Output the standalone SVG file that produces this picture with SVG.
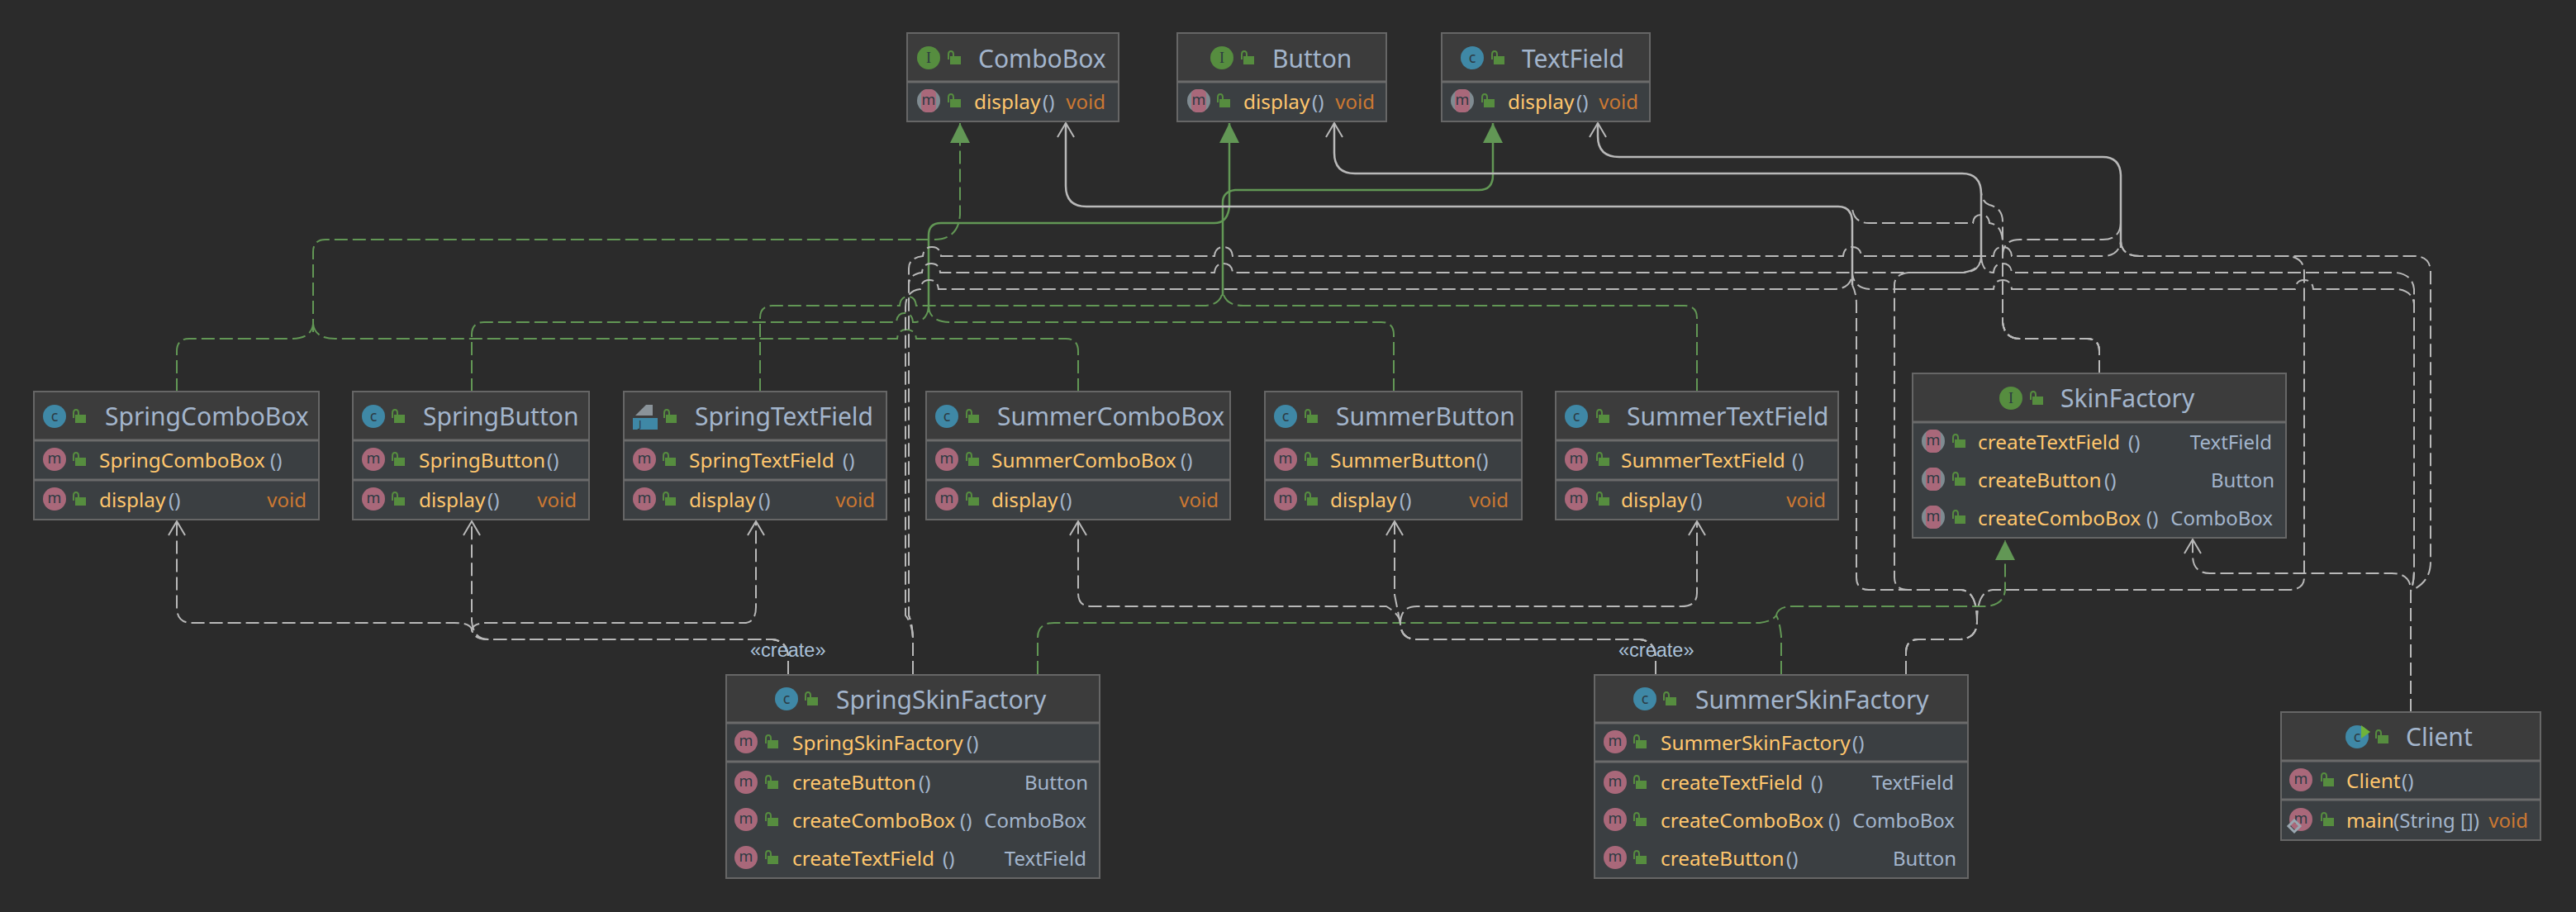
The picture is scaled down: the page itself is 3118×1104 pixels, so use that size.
<svg xmlns="http://www.w3.org/2000/svg" width="3118" height="1104" viewBox="0 0 3118 1104">
<style>
text{font-family:"Noto Sans","Open Sans","DejaVu Sans",sans-serif}
.t{font-size:30px;fill:#a3b5cc}
.n{font-size:24.4px;fill:#ffc66d}
.p{font-size:24px;fill:#a3b5cc}
.v{font-size:24px;fill:#cc7832;text-anchor:end}
.y{font-size:24px;fill:#a3b5cc;text-anchor:end}
.h{fill:#3c3c3c;stroke:#666;stroke-width:2}
.b{fill:#3b3f42;stroke:#666;stroke-width:2}
.s{stroke:#6b6b6b;stroke-width:3}
.l{font-size:23.5px;fill:#a9c0d8;font-family:"Liberation Sans",Arial,sans-serif}
.e{fill:none;stroke-width:2;stroke-dasharray:16 6}
.sol{fill:none;stroke-width:2.5}
.w{stroke:#b9b9b9}
.g{stroke:#629755}
.wa{marker-end:url(#open)}
.ga{marker-end:url(#tri)}
.k{font-size:18px;fill:#2c3a42;text-anchor:middle}
</style>
<defs>
<marker id="open" markerUnits="userSpaceOnUse" markerWidth="24" markerHeight="26" refX="20" refY="13" orient="auto"><path d="M3,3 L20,13 L3,23" fill="none" stroke="#b9b9b9" stroke-width="2"/></marker>
<marker id="tri" markerUnits="userSpaceOnUse" markerWidth="26" markerHeight="28" refX="24" refY="13" orient="auto"><path d="M0,1 L24,13 L0,25 Z" fill="#629755"/></marker>
<g id="lock"><path d="M-7,2 V-4 Q-7,-8 -4,-8 Q-1,-8 -1,-4 V-2" fill="none" stroke="#568d3f" stroke-width="2"/><rect x="-5" y="-2" width="13" height="10" fill="#568d3f"/></g>
<g id="ic"><circle r="14" fill="#3f88a6"/><text class="k" y="6">c</text></g>
<g id="ii"><circle r="14" fill="#568d3f"/><text class="k" y="6" style="font-family:'Liberation Serif',serif">I</text></g>
<g id="im"><circle r="14" fill="#a9687a"/><text class="k" y="5">m</text></g>
<g id="ia"><circle r="14" fill="#7f8b91"/><rect x="-9" y="-14" width="18" height="28" rx="6" fill="#a9687a"/><text class="k" y="5">m</text></g>
</defs>
<rect width="3118" height="1104" fill="#2b2b2b"/>

<g id="connectors">
<!-- realization: ComboBox -->
<path class="e g ga" d="M379,402 V305 Q379,290 394,290 H1130 Q1160,290 1162,260 V149"/>
<path class="e g" d="M214,474 V425 Q214,410 229,410 H352 Q377,410 379,392"/>
<path class="e g" d="M1305,474 V425 Q1305,410 1290,410 H1109 Q1108,399 1097,399 Q1087,399 1086,410 H406 Q381,410 379,392"/>
<!-- realization: Button -->
<path class="sol g ga" d="M1124,378 V285 Q1124,270 1139,270 H1470 Q1486,270 1488,250 V149"/>
<path class="e g" d="M571,474 V405 Q571,390 586,390 H1085 Q1086,379 1095,379 Q1104,379 1105,390 H1108 Q1122,388 1124,372"/>
<path class="e g" d="M1687,474 V405 Q1687,390 1672,390 H1150 Q1126,390 1124,372"/>
<!-- realization: TextField -->
<path class="sol g ga" d="M1480,358 V245 Q1480,232 1495,230 H1790 Q1807,230 1807,212 V149"/>
<path class="e g" d="M920,474 V385 Q920,370 935,370 H1089 Q1090,359 1099,359 Q1108,359 1109,370 H1456 Q1478,370 1480,352"/>
<path class="e g" d="M2054,474 V385 Q2054,370 2039,370 H1505 Q1482,370 1480,352"/>
<!-- realization: SkinFactory -->
<path class="e g ga" d="M2150,745 Q2152,734 2170,734 H2400 Q2427,734 2427,712 V654"/>
<path class="e g" d="M1256,816 V772 Q1256,754 1276,754 H2130 Q2145,752 2150,745"/>
<path class="e g" d="M2156,816 V770 Q2154,752 2150,745"/>
<!-- to ComboBox -->
<path class="sol w wa" d="M2242,345 V268 Q2241,250 2225,250 H1315 Q1290,250 1290,225 V149"/>
<path class="e w" d="M2541,452 V425 Q2541,410 2526,410 H2445 Q2426,410 2424,390 V295 Q2424,272 2408,270 Q2407,260 2398,260 Q2389,260 2388,270 H2262 Q2244,270 2242,252"/>
<path class="e w" d="M1105,816 V772 Q1104,755 1096,745 V372 Q1096,352 1114,350 Q1115,339 1125,339 Q1135,339 1136,350 H2219 Q2240,350 2242,332"/>
<path class="e w" d="M2307,816 V790 Q2307,774 2322,774 H2370 Q2393,774 2393,752 Q2393,716 2374,714 H2262 Q2247,714 2247,699 V368 Q2247,355 2242,345"/>
<path class="e w" d="M2918,862 V715 Q2922,705 2922,690 V368 Q2920,352 2902,350 H2800 Q2799,339 2789,339 Q2779,339 2778,350 H2435 Q2434,339 2424,339 Q2414,339 2413,350 H2265 Q2245,350 2242,332"/>
<!-- to Button -->
<path class="sol w wa" d="M2398,318 V235 Q2398,210 2375,210 H1640 Q1615,210 1615,185 V149"/>
<path class="e w" d="M2541,452 V425 Q2541,410 2526,410 H2445 Q2426,410 2424,390 V268 Q2424,252 2408,248 Q2399,245 2398,232"/>
<path class="e w" d="M1105,816 V772 Q1104,755 1100,745 V345 Q1100,332 1116,330 Q1117,319 1127,319 Q1137,319 1138,330 H1470 Q1471,319 1481,319 Q1491,319 1492,330 H2370 Q2396,330 2398,312"/>
<path class="e w" d="M2307,816 V790 Q2307,774 2322,774 H2370 Q2393,774 2393,752 Q2393,716 2374,714 H2310 Q2293,714 2293,699 V345 Q2293,332 2310,330 H2375 Q2396,330 2398,312"/>
<path class="e w" d="M2918,862 V715 Q2922,705 2922,690 V350 Q2920,332 2900,330 H2435 Q2434,319 2424,319 Q2414,319 2413,330 Q2400,330 2398,312"/>
<!-- to TextField -->
<path class="sol w wa" d="M2567,300 V212 Q2566,190 2545,190 H1960 Q1934,190 1934,165 V149"/>
<path class="e w" d="M2541,452 V425 Q2541,410 2526,410 H2445 Q2426,410 2424,390 V310 Q2424,290 2445,290 H2545 Q2566,290 2567,270"/>
<path class="e w" d="M1105,816 V772 Q1104,755 1100,745 V325 Q1100,312 1117,310 Q1118,299 1128,299 Q1138,299 1139,310 H1470 Q1471,299 1481,299 Q1491,299 1492,310 H2231 Q2232,299 2242,299 Q2252,299 2253,310 H2413 Q2414,299 2424,299 Q2434,299 2435,310 H2545 Q2565,310 2567,292"/>
<path class="e w" d="M2307,816 V790 Q2307,774 2322,774 H2370 Q2393,774 2393,752 Q2393,716 2412,714 H2770 Q2789,714 2789,699 V330 Q2789,312 2770,310 H2590 Q2568,310 2567,292"/>
<path class="e w" d="M2918,862 V715 Q2942,705 2942,680 V330 Q2942,310 2922,310 H2590 Q2568,310 2567,292"/>
<!-- Client to SkinFactory -->
<path class="e w wa" d="M2918,862 V712 Q2916,694 2895,694 H2675 Q2654,694 2654,672 V653"/>
<!-- create -->
<path class="e w wa" d="M954,816 V795 Q953,776 935,774 H592 Q573,774 571,762 Q569,754 550,754 H232 Q214,754 214,735 V631"/>
<path class="e w wa" d="M954,816 V795 Q953,776 935,774 H592 Q573,774 571,752 V631"/>
<path class="e w wa" d="M954,816 V795 Q953,776 935,774 H592 Q573,774 571,762 Q573,754 590,754 H900 Q915,754 915,735 V631"/>
<path class="e w wa" d="M2004,816 V795 Q2003,776 1985,774 H1715 Q1696,774 1695,755 Q1695,744 1678,734 H1320 Q1305,734 1305,718 V631"/>
<path class="e w wa" d="M2004,816 V795 Q2003,776 1985,774 H1715 Q1696,774 1695,755 Q1693,745 1688,720 V631"/>
<path class="e w wa" d="M2004,816 V795 Q2003,776 1985,774 H1715 Q1696,774 1695,755 Q1695,734 1715,734 H2035 Q2054,734 2054,718 V631"/>
</g>
<text class="l" x="908" y="795">«create»</text>
<text class="l" x="1959" y="795">«create»</text>

<g id="ComboBox">
<rect class="h" x="1098" y="40" width="256" height="59"/><rect class="b" x="1098" y="99" width="256" height="48"/><line class="s" x1="1098" x2="1354" y1="99" y2="99"/>
<use href="#ii" x="1124" y="70"/><use href="#lock" x="1155" y="70"/><text class="t" x="1184" y="82">ComboBox</text>
<use href="#ia" x="1124" y="122"/><use href="#lock" x="1155" y="122"/><text class="n" x="1179" y="132">display<tspan class="p" x="1262">()</tspan></text><text class="v" x="1338" y="132">void</text>
</g>
<g id="Button">
<rect class="h" x="1425" y="40" width="253" height="59"/><rect class="b" x="1425" y="99" width="253" height="48"/><line class="s" x1="1425" x2="1678" y1="99" y2="99"/>
<use href="#ii" x="1479" y="70"/><use href="#lock" x="1510" y="70"/><text class="t" x="1540" y="82">Button</text>
<use href="#ia" x="1451" y="122"/><use href="#lock" x="1481" y="122"/><text class="n" x="1505" y="132">display<tspan class="p" x="1588">()</tspan></text><text class="v" x="1664" y="132">void</text>
</g>
<g id="TextField">
<rect class="h" x="1745" y="40" width="252" height="59"/><rect class="b" x="1745" y="99" width="252" height="48"/><line class="s" x1="1745" x2="1997" y1="99" y2="99"/>
<use href="#ic" x="1782" y="70"/><use href="#lock" x="1813" y="70"/><text class="t" x="1842" y="82">TextField</text>
<use href="#ia" x="1770" y="122"/><use href="#lock" x="1801" y="122"/><text class="n" x="1825" y="132">display<tspan class="p" x="1908">()</tspan></text><text class="v" x="1983" y="132">void</text>
</g>

<g id="SpringComboBox">
<rect class="h" x="41" y="474" width="345" height="59"/><rect class="b" x="41" y="533" width="345" height="96"/><line class="s" x1="41" x2="386" y1="533" y2="533"/><line class="s" x1="41" x2="386" y1="581" y2="581"/>
<use href="#ic" x="66" y="504"/><use href="#lock" x="96" y="504"/><text class="t" x="127" y="515">SpringComboBox</text>
<use href="#im" x="66" y="556"/><use href="#lock" x="96" y="556"/><text class="n" x="120" y="566">SpringComboBox<tspan class="p" x="327">()</tspan></text>
<use href="#im" x="66" y="604"/><use href="#lock" x="96" y="604"/><text class="n" x="120" y="614">display<tspan class="p" x="204">()</tspan></text><text class="v" x="371" y="614">void</text>
</g>
<g id="SpringButton">
<rect class="h" x="427" y="474" width="286" height="59"/><rect class="b" x="427" y="533" width="286" height="96"/><line class="s" x1="427" x2="713" y1="533" y2="533"/><line class="s" x1="427" x2="713" y1="581" y2="581"/>
<use href="#ic" x="452" y="504"/><use href="#lock" x="482" y="504"/><text class="t" x="512" y="515">SpringButton</text>
<use href="#im" x="452" y="556"/><use href="#lock" x="482" y="556"/><text class="n" x="507" y="566">SpringButton<tspan class="p" x="662">()</tspan></text>
<use href="#im" x="452" y="604"/><use href="#lock" x="482" y="604"/><text class="n" x="507" y="614">display<tspan class="p" x="590">()</tspan></text><text class="v" x="698" y="614">void</text>
</g>
<g id="SpringTextField">
<rect class="h" x="755" y="474" width="318" height="59"/><rect class="b" x="755" y="533" width="318" height="96"/><line class="s" x1="755" x2="1073" y1="533" y2="533"/><line class="s" x1="755" x2="1073" y1="581" y2="581"/>
<path d="M769,503 L782,490 H790 V503 Z" fill="#8a9399"/><rect x="766" y="506" width="30" height="14" fill="#3f88a6"/><text x="773" y="518" style="font-size:13px;fill:#2c3a42">J</text>
<use href="#lock" x="811" y="504"/><text class="t" x="841" y="515">SpringTextField</text>
<use href="#im" x="780" y="556"/><use href="#lock" x="810" y="556"/><text class="n" x="834" y="566">SpringTextField<tspan class="p" x="1020">()</tspan></text>
<use href="#im" x="780" y="604"/><use href="#lock" x="810" y="604"/><text class="n" x="834" y="614">display<tspan class="p" x="918">()</tspan></text><text class="v" x="1059" y="614">void</text>
</g>
<g id="SummerComboBox">
<rect class="h" x="1121" y="474" width="368" height="59"/><rect class="b" x="1121" y="533" width="368" height="96"/><line class="s" x1="1121" x2="1489" y1="533" y2="533"/><line class="s" x1="1121" x2="1489" y1="581" y2="581"/>
<use href="#ic" x="1146" y="504"/><use href="#lock" x="1177" y="504"/><text class="t" x="1207" y="515">SummerComboBox</text>
<use href="#im" x="1146" y="556"/><use href="#lock" x="1177" y="556"/><text class="n" x="1200" y="566">SummerComboBox<tspan class="p" x="1429">()</tspan></text>
<use href="#im" x="1146" y="604"/><use href="#lock" x="1177" y="604"/><text class="n" x="1200" y="614">display<tspan class="p" x="1283">()</tspan></text><text class="v" x="1475" y="614">void</text>
</g>
<g id="SummerButton">
<rect class="h" x="1531" y="474" width="311" height="59"/><rect class="b" x="1531" y="533" width="311" height="96"/><line class="s" x1="1531" x2="1842" y1="533" y2="533"/><line class="s" x1="1531" x2="1842" y1="581" y2="581"/>
<use href="#ic" x="1556" y="504"/><use href="#lock" x="1587" y="504"/><text class="t" x="1617" y="515">SummerButton</text>
<use href="#im" x="1556" y="556"/><use href="#lock" x="1587" y="556"/><text class="n" x="1610" y="566">SummerButton<tspan class="p" x="1787">()</tspan></text>
<use href="#im" x="1556" y="604"/><use href="#lock" x="1587" y="604"/><text class="n" x="1610" y="614">display<tspan class="p" x="1694">()</tspan></text><text class="v" x="1826" y="614">void</text>
</g>
<g id="SummerTextField">
<rect class="h" x="1883" y="474" width="342" height="59"/><rect class="b" x="1883" y="533" width="342" height="96"/><line class="s" x1="1883" x2="2225" y1="533" y2="533"/><line class="s" x1="1883" x2="2225" y1="581" y2="581"/>
<use href="#ic" x="1908" y="504"/><use href="#lock" x="1940" y="504"/><text class="t" x="1969" y="515">SummerTextField</text>
<use href="#im" x="1908" y="556"/><use href="#lock" x="1940" y="556"/><text class="n" x="1962" y="566">SummerTextField<tspan class="p" x="2169">()</tspan></text>
<use href="#im" x="1908" y="604"/><use href="#lock" x="1940" y="604"/><text class="n" x="1962" y="614">display<tspan class="p" x="2046">()</tspan></text><text class="v" x="2210" y="614">void</text>
</g>

<g id="SkinFactory">
<rect class="h" x="2315" y="452" width="452" height="59"/><rect class="b" x="2315" y="511" width="452" height="140"/><line class="s" x1="2315" x2="2767" y1="511" y2="511"/>
<use href="#ii" x="2434" y="482"/><use href="#lock" x="2465" y="482"/><text class="t" x="2494" y="493">SkinFactory</text>
<use href="#ia" x="2340" y="534"/><use href="#lock" x="2371" y="534"/><text class="n" x="2394" y="544">createTextField<tspan class="p" x="2576">()</tspan></text><text class="y" x="2750" y="544">TextField</text>
<use href="#ia" x="2340" y="580"/><use href="#lock" x="2371" y="580"/><text class="n" x="2394" y="590">createButton<tspan class="p" x="2547">()</tspan></text><text class="y" x="2753" y="590">Button</text>
<use href="#ia" x="2340" y="626"/><use href="#lock" x="2371" y="626"/><text class="n" x="2394" y="636">createComboBox<tspan class="p" x="2598">()</tspan></text><text class="y" x="2751" y="636">ComboBox</text>
</g>

<g id="SpringSkinFactory">
<rect class="h" x="879" y="817" width="452" height="58"/><rect class="b" x="879" y="875" width="452" height="188"/><line class="s" x1="879" x2="1331" y1="875" y2="875"/><line class="s" x1="879" x2="1331" y1="922" y2="922"/>
<use href="#ic" x="952" y="846"/><use href="#lock" x="982" y="846"/><text class="t" x="1012" y="858">SpringSkinFactory</text>
<use href="#im" x="903" y="898"/><use href="#lock" x="934" y="898"/><text class="n" x="959" y="908">SpringSkinFactory<tspan class="p" x="1170">()</tspan></text>
<use href="#im" x="903" y="947"/><use href="#lock" x="934" y="947"/><text class="n" x="959" y="956">createButton<tspan class="p" x="1112">()</tspan></text><text class="y" x="1317" y="956">Button</text>
<use href="#im" x="903" y="992"/><use href="#lock" x="934" y="992"/><text class="n" x="959" y="1002">createComboBox<tspan class="p" x="1162">()</tspan></text><text class="y" x="1315" y="1002">ComboBox</text>
<use href="#im" x="903" y="1038"/><use href="#lock" x="934" y="1038"/><text class="n" x="959" y="1048">createTextField<tspan class="p" x="1141">()</tspan></text><text class="y" x="1315" y="1048">TextField</text>
</g>
<g id="SummerSkinFactory">
<rect class="h" x="1930" y="817" width="452" height="58"/><rect class="b" x="1930" y="875" width="452" height="188"/><line class="s" x1="1930" x2="2382" y1="875" y2="875"/><line class="s" x1="1930" x2="2382" y1="922" y2="922"/>
<use href="#ic" x="1991" y="846"/><use href="#lock" x="2021" y="846"/><text class="t" x="2052" y="858">SummerSkinFactory</text>
<use href="#im" x="1955" y="898"/><use href="#lock" x="1985" y="898"/><text class="n" x="2010" y="908">SummerSkinFactory<tspan class="p" x="2242">()</tspan></text>
<use href="#im" x="1955" y="947"/><use href="#lock" x="1985" y="947"/><text class="n" x="2010" y="956">createTextField<tspan class="p" x="2192">()</tspan></text><text class="y" x="2365" y="956">TextField</text>
<use href="#im" x="1955" y="992"/><use href="#lock" x="1985" y="992"/><text class="n" x="2010" y="1002">createComboBox<tspan class="p" x="2213">()</tspan></text><text class="y" x="2366" y="1002">ComboBox</text>
<use href="#im" x="1955" y="1038"/><use href="#lock" x="1985" y="1038"/><text class="n" x="2010" y="1048">createButton<tspan class="p" x="2162">()</tspan></text><text class="y" x="2368" y="1048">Button</text>
</g>

<g id="Client">
<rect class="h" x="2761" y="862" width="314" height="59"/><rect class="b" x="2761" y="921" width="314" height="96"/><line class="s" x1="2761" x2="3075" y1="921" y2="921"/><line class="s" x1="2761" x2="3075" y1="968" y2="968"/>
<use href="#ic" x="2853" y="892"/><path d="M2858,878 L2869,886 L2858,894 Z" fill="#6fb33a"/><use href="#lock" x="2883" y="892"/><text class="t" x="2912" y="903">Client</text>
<use href="#im" x="2785" y="944"/><use href="#lock" x="2817" y="944"/><text class="n" x="2840" y="954">Client<tspan class="p" x="2907">()</tspan></text>
<use href="#im" x="2785" y="992"/><path d="M2777,993 L2784,1000 L2777,1007 L2770,1000 Z" fill="none" stroke="#9aa7b0" stroke-width="3"/><use href="#lock" x="2817" y="992"/><text class="n" x="2840" y="1002">main<tspan class="p" x="2897">(String [])</tspan></text><text class="v" x="3060" y="1002">void</text>
</g>
</svg>
